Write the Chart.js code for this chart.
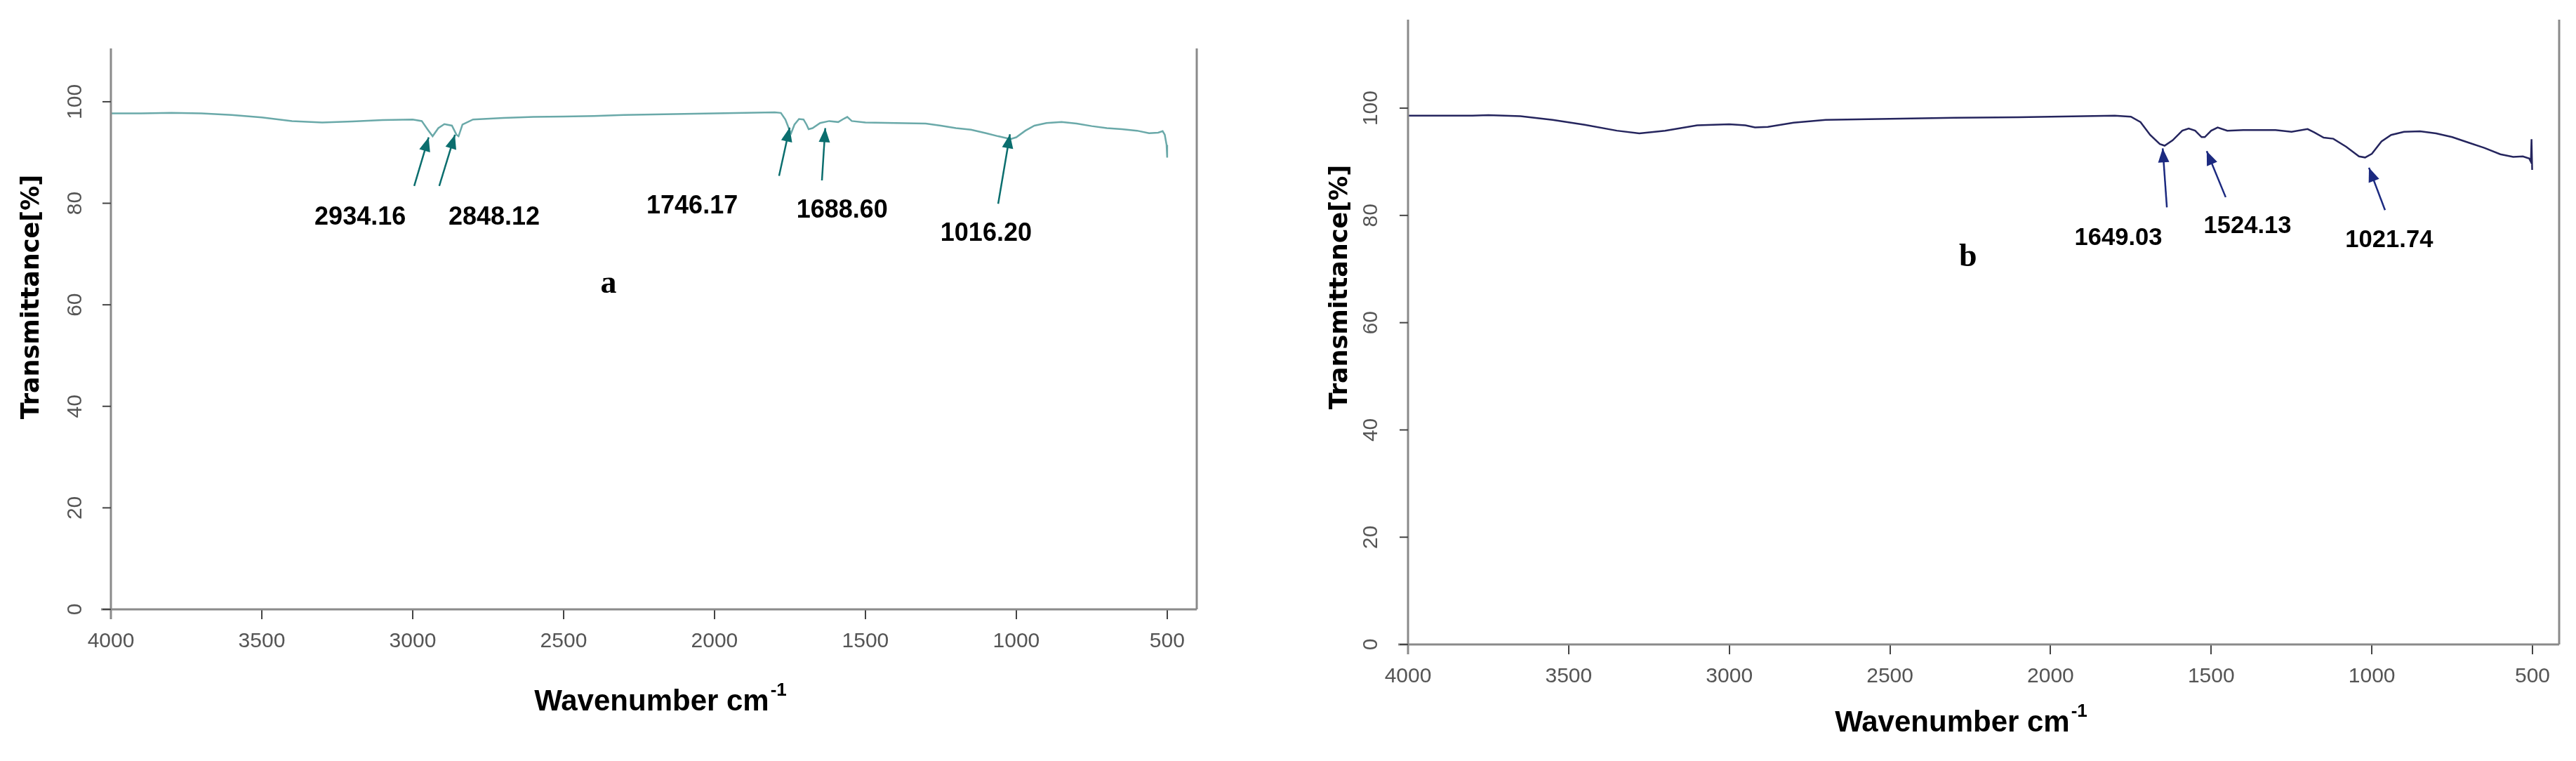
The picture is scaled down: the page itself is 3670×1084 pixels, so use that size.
<!DOCTYPE html>
<html><head><meta charset="utf-8">
<script src="https://cdn.jsdelivr.net/npm/chart.js@4"></script>
<style>body{margin:0;background:#fff;width:3670px;height:1084px;position:relative;overflow:hidden}canvas{position:absolute;top:0}</style>
</head><body>
<canvas id="ca" style="left:0"></canvas>
<canvas id="cb" style="left:1835px"></canvas>
<script>
// ---- data ----
const leftWave = [4000,3900,3800,3700,3600,3500,3400,3300,3200,3100,3000,2970,2950,2934,2915,2895,2870,2855,2848,2835,2800,2700,2600,2500,2400,2300,2200,2100,2000,1900,1800,1780,1765,1750,1746,1735,1720,1705,1695,1688,1675,1650,1620,1590,1570,1560,1545,1500,1400,1300,1250,1200,1150,1100,1060,1030,1016,1000,970,940,900,850,800,750,700,650,600,560,530,515,508,502,500];
const leftTrans = [97.7,97.7,97.8,97.7,97.4,96.9,96.2,95.9,96.1,96.4,96.5,96.2,94.5,93.2,94.8,95.6,95.3,93.5,93.2,95.5,96.5,96.8,97.0,97.1,97.2,97.4,97.5,97.6,97.7,97.8,97.9,97.8,96.5,94.2,93.8,95.5,96.6,96.5,95.5,94.6,94.8,95.8,96.2,96.0,96.7,97.0,96.2,95.9,95.8,95.7,95.3,94.8,94.5,93.8,93.2,92.8,92.7,93.0,94.3,95.3,95.8,96.0,95.7,95.2,94.8,94.6,94.3,93.8,93.9,94.2,93.5,91.5,89.0];
const rightWave = [4000,3800,3750,3650,3550,3450,3350,3280,3200,3100,3000,2950,2920,2880,2800,2700,2500,2300,2100,2000,1800,1750,1720,1690,1660,1645,1620,1590,1570,1550,1530,1520,1500,1480,1450,1400,1300,1250,1200,1180,1150,1120,1080,1040,1021,1000,970,940,900,850,800,750,700,650,600,560,530,510,505,503,501];
const rightTrans = [98.6,98.6,98.7,98.5,97.8,96.9,95.8,95.3,95.8,96.8,97.0,96.8,96.4,96.5,97.3,97.8,98.0,98.2,98.3,98.4,98.6,98.4,97.4,95.0,93.3,93.0,94.0,95.8,96.2,95.8,94.6,94.6,95.8,96.4,95.8,95.9,95.9,95.6,96.1,95.5,94.5,94.3,92.8,91.0,90.8,91.5,93.8,95.0,95.6,95.7,95.3,94.6,93.6,92.6,91.4,90.9,91.0,90.6,90.0,94.2,88.5];
const xTicks = [4000,3500,3000,2500,2000,1500,1000,500];
const yTicks = [0,20,40,60,80,100];
// peak annotations: label, arrow tail [w,T], arrow tip [w,T], label centre [w,T]
const leftPeaks = [
 ["2934.16",[2995,83.4],[2947,93.0],[3174,77.1]],
 ["2848.12",[2912,83.4],[2860,93.5],[2730,77.1]],
 ["1746.17",[1786,85.4],[1751,94.9],[2074,79.4]],
 ["1688.60",[1644,84.5],[1633,94.8],[1577,78.6]],
 ["1016.20",[1060,79.9],[1021,93.6],[1100,74.0]]
];
const rightPeaks = [
 ["1649.03",[1638,81.5],[1651,92.5],[1789,75.7]],
 ["1524.13",[1455,83.4],[1514,92.0],[1387,78.0]],
 ["1021.74",[959,81.0],[1009,88.9],[946,75.3]]
];

function fitFont(ctx, txt, w, weight, fam){
  ctx.font = weight+" 100px "+fam;
  return weight+" "+(100*w/ctx.measureText(txt).width).toFixed(1)+"px "+fam;
}

function makeChart(id, cfg){
  const W=1835, H=1084;
  const cv=document.getElementById(id); cv.width=W; cv.height=H;
  const plug={id:'deco', afterDraw(ch){
    const c=ch.ctx, a=ch.chartArea, xs=ch.scales.x, ys=ch.scales.y;
    c.save();
    c.strokeStyle='#8a8a8a'; c.lineWidth=3;
    c.beginPath();
    c.moveTo(a.left,a.top); c.lineTo(a.left,a.bottom+14);
    c.moveTo(a.right,a.top); c.lineTo(a.right,a.bottom);
    c.moveTo(a.left-14,a.bottom); c.lineTo(a.right,a.bottom);
    c.stroke();
    c.fillStyle='#555'; c.font='30px "Liberation Sans"';
    c.textAlign='center'; c.textBaseline='middle';
    c.lineWidth=2; c.strokeStyle='#444';
    yTicks.forEach(v=>{
      const y=ys.getPixelForValue(v);
      c.beginPath(); c.moveTo(a.left-12,y); c.lineTo(a.left,y); c.stroke();
      c.save(); c.translate(a.left-cfg.yLabOff,y); c.rotate(-Math.PI/2); c.fillText(String(v),0,0); c.restore();
    });
    cfg.peaks.forEach(p=>{
      const tx=xs.getPixelForValue(p[1][0]), ty=ys.getPixelForValue(p[1][1]);
      const hx=xs.getPixelForValue(p[2][0]), hy=ys.getPixelForValue(p[2][1]);
      c.strokeStyle=cfg.arrow; c.fillStyle=cfg.arrow; c.lineWidth=2.5;
      c.beginPath(); c.moveTo(tx,ty); c.lineTo(hx,hy); c.stroke();
      const ang=Math.atan2(hy-ty,hx-tx), L=20, Wd=8;
      c.beginPath(); c.moveTo(hx,hy);
      c.lineTo(hx-L*Math.cos(ang)+Wd*Math.sin(ang), hy-L*Math.sin(ang)-Wd*Math.cos(ang));
      c.lineTo(hx-L*Math.cos(ang)-Wd*Math.sin(ang), hy-L*Math.sin(ang)+Wd*Math.cos(ang));
      c.closePath(); c.fill();
      c.fillStyle='#000';
      c.font=fitFont(c,p[0],cfg.labW,'bold',cfg.labFam);
      c.fillText(p[0], xs.getPixelForValue(p[3][0]), ys.getPixelForValue(p[3][1]));
    });
    c.fillStyle='#000'; c.font='bold 46px "Liberation Serif"';
    c.fillText(cfg.letter[0], xs.getPixelForValue(cfg.letter[1]), ys.getPixelForValue(cfg.letter[2]));
    c.save(); c.translate(cfg.yTitle[0],cfg.yTitle[1]); c.rotate(-Math.PI/2);
    c.font='bold 35px "DejaVu Sans"'; c.fillText('Transmittance[%]',0,0); c.restore();
    c.font='bold 42px "Liberation Sans"'; c.textAlign='left';
    const t1='Wavenumber cm', w1=c.measureText(t1).width;
    c.font='bold 26px "Liberation Sans"'; const w2=c.measureText('-1').width;
    const x0=cfg.xTitle[0]-(w1+w2)/2;
    c.font='bold 42px "Liberation Sans"'; c.fillText(t1,x0,cfg.xTitle[1]);
    c.font='bold 26px "Liberation Sans"'; c.fillText('-1',x0+w1+2,cfg.xTitle[1]-16);
    c.restore();
  }};
  return new Chart(cv,{
    type:'scatter',
    data:{datasets:[{data:cfg.xs.map((w,i)=>({x:w,y:cfg.ys[i]})),showLine:true,borderColor:cfg.line,borderWidth:2.5,pointRadius:0,tension:0}]},
    options:{responsive:false,animation:false,devicePixelRatio:1,
      layout:{padding:{left:0,top:cfg.top,right:W-cfg.right,bottom:0}},
      plugins:{legend:{display:false},tooltip:{enabled:false}},
      scales:{
        x:{type:'linear',reverse:true,min:cfg.xmin,max:4000,
           afterBuildTicks:s=>{s.ticks=xTicks.map(v=>({value:v}));},
           afterFit:s=>{s.height=H-cfg.bottom;},
           border:{display:false},
           grid:{drawOnChartArea:false,tickLength:14,color:'#444',lineWidth:2},
           ticks:{color:'#555',font:{family:'Liberation Sans',size:30},padding:14,maxRotation:0,autoSkip:false,callback:v=>String(v)}},
        y:{type:'linear',min:0,max:cfg.ymax,
           afterBuildTicks:s=>{s.ticks=yTicks.map(v=>({value:v}));},
           afterFit:s=>{s.width=cfg.left;},
           border:{display:false},grid:{display:false},ticks:{display:false}}
      }},
    plugins:[plug]
  });
}
makeChart('ca',{xs:leftWave,ys:leftTrans,left:158,right:1705,top:69,bottom:868,xmin:402,ymax:110.5,
  line:'#6aa9a9',arrow:'#0b6e6e',peaks:leftPeaks,labW:130,labFam:'"Liberation Sans"',
  letter:['a',2351,64],yTitle:[46,423],xTitle:[940,1000],yLabOff:50});
makeChart('cb',{xs:rightWave,ys:rightTrans,left:171,right:1811,top:28,bottom:918,xmin:417,ymax:116.5,
  line:'#25255e',arrow:'#1c2a80',peaks:rightPeaks,labW:125,labFam:'"Liberation Sans"',
  letter:['b',2257,72.1],yTitle:[75,409],xTitle:[958,1030],yLabOff:52});
</script></body></html>
